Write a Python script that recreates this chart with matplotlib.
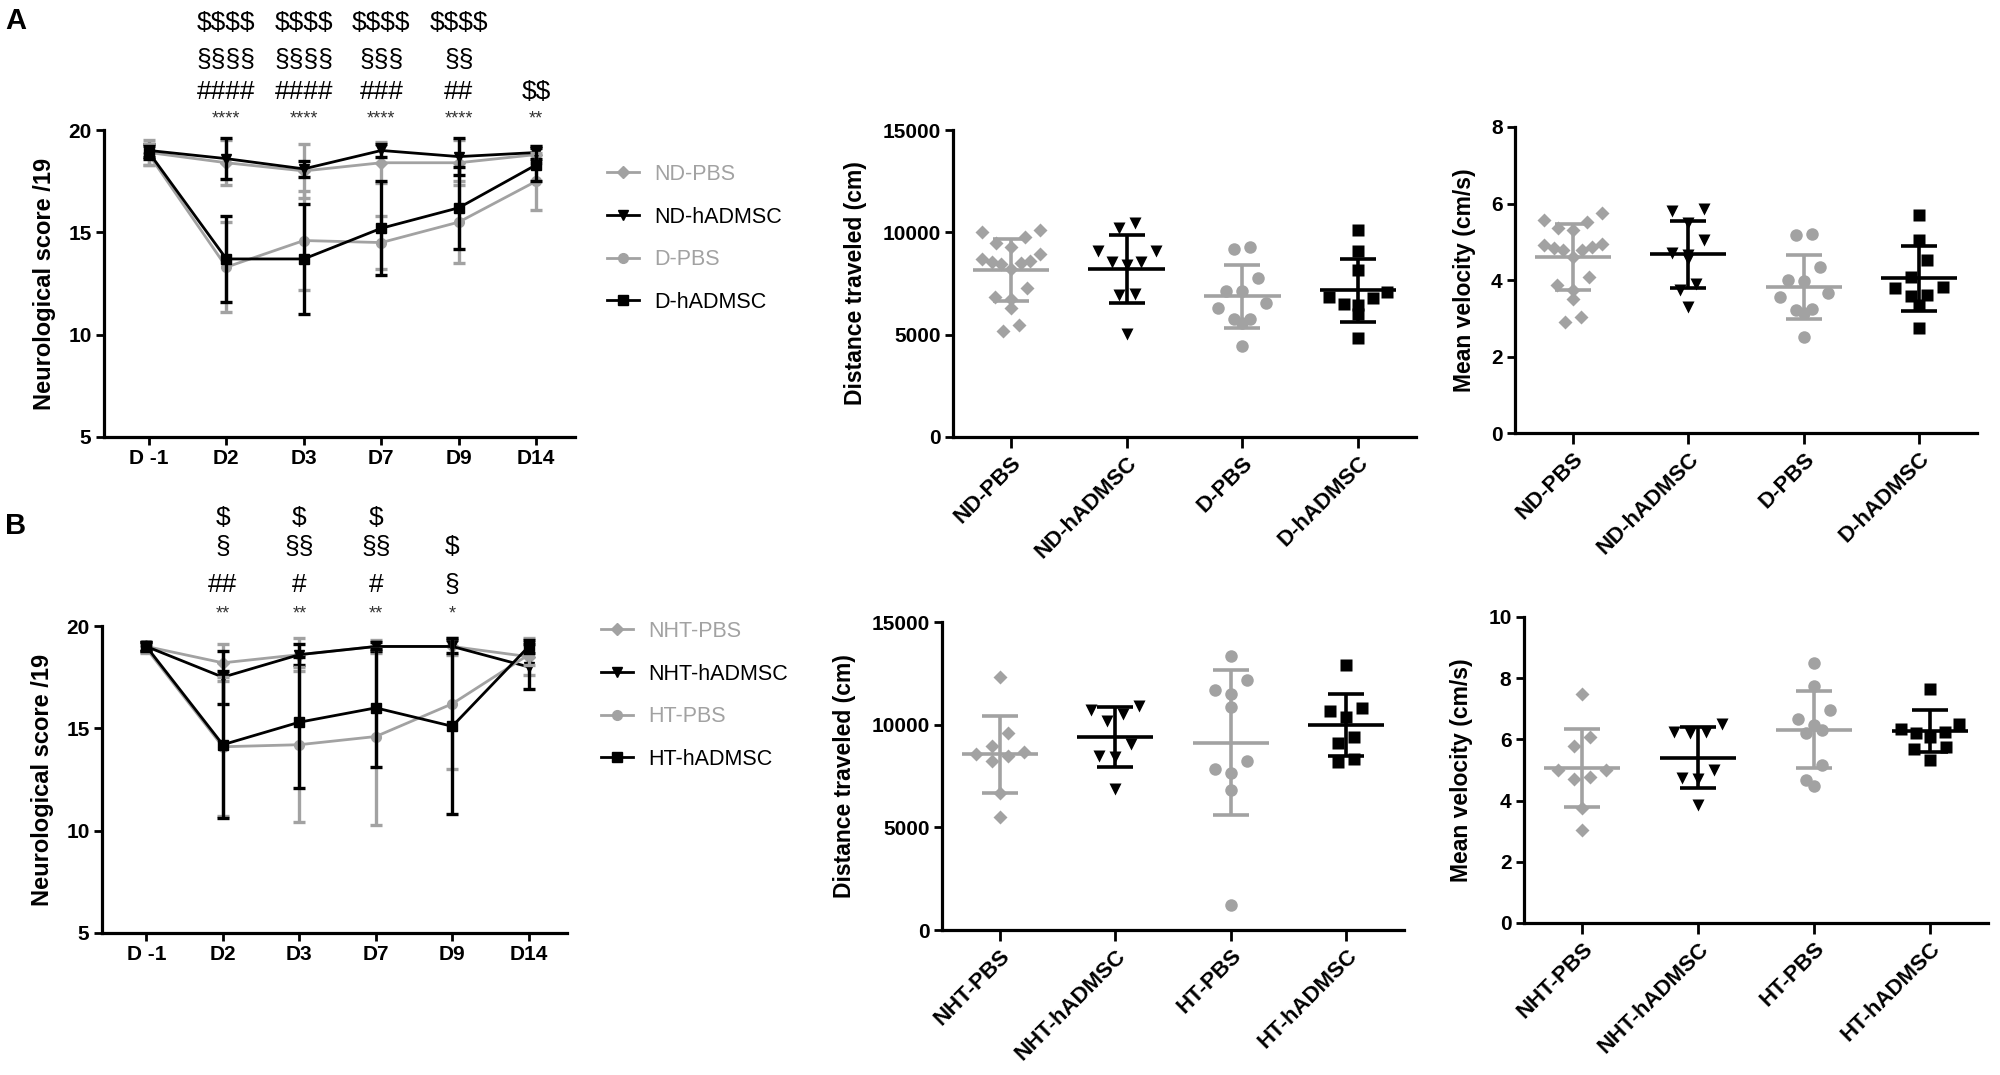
import numpy as np
import matplotlib
matplotlib.use("Agg")
import matplotlib.pyplot as plt

plt.rcParams['font.family'] = ['Liberation Sans', 'DejaVu Sans']

GRAY = "#a2a2a2"

# ---- Neurological score (line charts) ----
days = ["D -1", "D2", "D3", "D7", "D9", "D14"]

a_labels = ["ND-PBS", "ND-hADMSC", "D-PBS", "D-hADMSC"]
nd_pbs_mean = [18.9, 18.4, 18.0, 18.4, 18.4, 18.8]
nd_pbs_sd = [0.6, 1.1, 1.3, 1.0, 1.1, 0.4]
nd_hadmsc_mean = [19.0, 18.6, 18.1, 19.0, 18.7, 18.9]
nd_hadmsc_sd = [0.3, 1.0, 0.4, 0.3, 0.9, 0.3]
d_pbs_mean = [18.8, 13.3, 14.6, 14.5, 15.5, 17.5]
d_pbs_sd = [0.5, 2.2, 2.4, 1.3, 2.0, 1.4]
d_hadmsc_mean = [18.9, 13.7, 13.7, 15.2, 16.2, 18.3]
d_hadmsc_sd = [0.3, 2.1, 2.7, 2.3, 2.0, 0.8]

b_labels = ["NHT-PBS", "NHT-hADMSC", "HT-PBS", "HT-hADMSC"]
nht_pbs_mean = [19.0, 18.2, 18.6, 19.0, 19.0, 18.5]
nht_pbs_sd = [0.2, 0.9, 0.8, 0.3, 0.4, 0.9]
nht_hadmsc_mean = [19.0, 17.5, 18.6, 19.0, 19.0, 18.0]
nht_hadmsc_sd = [0.2, 1.3, 0.5, 0.2, 0.3, 1.1]
ht_pbs_mean = [18.9, 14.1, 14.2, 14.6, 16.2, 18.6]
ht_pbs_sd = [0.2, 3.4, 3.8, 4.3, 3.2, 0.5]
ht_hadmsc_mean = [19.0, 14.2, 15.3, 16.0, 15.1, 19.0]
ht_hadmsc_sd = [0.2, 3.6, 3.2, 2.9, 4.3, 0.3]

# significance marks above each day
a_dollar = ["", "$$$$", "$$$$", "$$$$", "$$$$", ""]
a_section = ["", "§§§§", "§§§§", "§§§", "§§", ""]
a_hash = ["", "####", "####", "###", "##", "$$"]
a_star = ["", "****", "****", "****", "****", "**"]
b_dollar = ["", "$", "$", "$", "", ""]
b_section = ["", "§", "§§", "§§", "$", ""]
b_hash = ["", "##", "#", "#", "§", ""]
b_star = ["", "**", "**", "**", "*", ""]

# ---- Open field (scatter, mean +- SD) ----
nd_pbs_dist = [10100, 10000, 9750, 9500, 9300, 8950, 8700, 8500, 8450,
               8550, 8600, 8200, 7300, 6750, 6850, 6300, 5200, 5450]
nd_hadmsc_dist = [10450, 10200, 9100, 9100, 8550, 8400, 8550, 7000, 6950, 5050]
d_pbs_dist = [9200, 9280, 7750, 7130, 7130, 6550, 6300, 5750, 5550, 5750, 4430]
d_hadmsc_dist = [10100, 9100, 8150, 6850, 6800, 6500, 6450, 7100, 6000, 4850]
dist_a_mean = [8150, 8200, 6870, 7160]
dist_a_sd = [1500, 1650, 1540, 1520]

nd_pbs_vel = [5.74, 5.58, 5.52, 5.37, 5.3, 4.91, 4.94, 4.83, 4.78, 4.78,
              4.87, 4.6, 4.09, 3.74, 3.87, 3.5, 2.91, 3.03]
nd_hadmsc_vel = [5.8, 5.85, 5.5, 5.05, 4.7, 4.55, 4.65, 3.9, 3.75, 3.3]
d_pbs_vel = [5.17, 5.19, 4.35, 4.0, 3.97, 3.65, 3.55, 3.22, 3.13, 3.24, 2.5]
d_hadmsc_vel = [5.7, 5.04, 4.52, 4.09, 3.78, 3.83, 3.61, 3.57, 3.35, 2.74]
vel_a_mean = [4.6, 4.67, 3.82, 4.04]
vel_a_sd = [0.87, 0.88, 0.84, 0.85]

nht_pbs_dist = [12320, 9570, 8950, 8550, 8480, 8680, 8240, 6650, 5480]
nht_hadmsc_dist = [10700, 10180, 10540, 10900, 8460, 8430, 9050, 6890]
ht_pbs_dist = [13330, 12160, 11480, 11710, 10860, 7860, 7670, 8240, 6810, 1220]
ht_hadmsc_dist = [12890, 10830, 10670, 10380, 9400, 9110, 8190, 8350]
dist_b_mean = [8560, 9400, 9130, 9970]
dist_b_sd = [1870, 1440, 3550, 1520]

nht_pbs_vel = [7.48, 6.09, 5.78, 5.0, 5.0, 4.71, 4.78, 3.75, 3.04]
nht_hadmsc_vel = [6.5, 6.25, 6.25, 6.2, 4.75, 4.7, 5.0, 3.85]
ht_pbs_vel = [8.5, 7.74, 6.96, 6.47, 6.68, 6.2, 6.3, 5.16, 4.48, 4.67]
ht_hadmsc_vel = [7.66, 6.33, 6.2, 6.09, 6.25, 6.5, 5.76, 5.7, 5.33]
vel_b_mean = [5.07, 5.4, 6.32, 6.28]
vel_b_sd = [1.27, 1.0, 1.27, 0.68]

MARKERS = ["D", "v", "o", "s"]
COLORS = [GRAY, "black", GRAY, "black"]
FIG_W, FIG_H = 2000, 1075


def style_axes(ax):
    for s in ("top", "right"):
        ax.spines[s].set_visible(False)
    for s in ("left", "bottom"):
        ax.spines[s].set_linewidth(2.3)
    ax.tick_params(width=2, length=6, labelsize=15, pad=3)
    for lab in ax.get_xticklabels() + ax.get_yticklabels():
        lab.set_fontweight("bold")


def line_panel(ax, means, sds, labels, rows, row_y, legend_xy):
    x = np.arange(len(days))
    handles = []
    for i in range(len(means)):
        c = ax.errorbar(x, means[i], yerr=sds[i], color=COLORS[i],
                        marker=MARKERS[i], ms=7 if MARKERS[i] != "D" else 6,
                        lw=2, elinewidth=2.4, capsize=4, capthick=2.4,
                        clip_on=False, zorder=3 + i)
        handles.append(c[0])
    ax.set_xlim(-0.58, 5.5)
    ax.set_ylim(5, 20)
    ax.set_yticks([5, 10, 15, 20])
    ax.set_xticks(x)
    ax.set_xticklabels(days)
    ax.set_ylabel("Neurological score /19", fontsize=17,
                  fontweight="bold", labelpad=9)
    style_axes(ax)

    for row, yy in zip(rows, row_y):
        small = row is rows[-1]
        for j, txt in enumerate(row):
            if txt:
                ax.text(j, yy, txt, transform=ax.get_xaxis_transform(),
                        ha="center", va="center", parse_math=False,
                        fontsize=13 if small else 19,
                        color="#333333" if small else "black")

    ax.legend(handles, labels, loc="upper left", frameon=False,
              bbox_to_anchor=legend_xy, bbox_transform=ax.figure.transFigure,
              fontsize=15.5, labelcolor="linecolor", handlelength=1.5,
              handletextpad=0.7, labelspacing=1.0, borderpad=0,
              borderaxespad=0)


def swarm(values, px_unit, px_cat, row_h=17.0, step=16.0):
    # GraphPad-like column scatter: points of similar value share a row,
    # the lowest of a row sits in the middle, the row is at most half a
    # category wide
    vals = np.asarray(values, dtype=float)
    order = list(np.argsort(-vals))
    xs = np.zeros(len(vals))
    while order:
        top = vals[order[0]]
        row = [i for i in order if (top - vals[i]) * px_unit < row_h]
        order = [i for i in order if i not in row]
        n = len(row)
        st = step / px_cat
        if n > 1:
            st = min(st, 0.5 / (n - 1))
        slots = sorted((np.arange(n) - (n - 1) / 2.0) * st, key=abs)
        row = sorted(row, key=lambda i: vals[i])
        for i, dx in zip(row, slots):
            xs[i] = dx
    return xs


def scatter_panel(ax, groups, means, sds, labels, ymax, yticks, ylabel):
    ax.set_xlim(-0.5, 3.5)
    ax.set_ylim(0, ymax)
    pos = ax.get_position()
    px_unit = pos.height * FIG_H / ymax
    px_cat = pos.width * FIG_W / 4.0
    for i, vals in enumerate(groups):
        off = swarm(vals, px_unit, px_cat)
        ax.plot(i + off, vals, ls="none", marker=MARKERS[i],
                ms=9 if MARKERS[i] != "D" else 7.5, color=COLORS[i],
                mec="none", clip_on=False, zorder=3)
        ax.plot([i - 0.33, i + 0.33], [means[i], means[i]],
                color=COLORS[i], lw=2.6, zorder=4, solid_capstyle="butt")
        ax.errorbar(i, means[i], yerr=sds[i], color=COLORS[i], lw=0,
                    elinewidth=2.6, capsize=13, capthick=2.6, zorder=4)
    ax.set_yticks(yticks)
    ax.set_xticks(range(4))
    ax.set_xticklabels(labels, rotation=45, ha="right",
                       rotation_mode="anchor")
    ax.set_ylabel(ylabel, fontsize=16.5, fontweight="bold", labelpad=11)
    style_axes(ax)
    ax.tick_params(axis="x", length=8, labelsize=16)


def rect(left, top, right, bottom):
    return [left / FIG_W, 1 - bottom / FIG_H,
            (right - left) / FIG_W, (bottom - top) / FIG_H]


fig = plt.figure(figsize=(20, 10.75), dpi=100)

ax_a1 = fig.add_axes(rect(104, 130, 575, 437))
ax_a2 = fig.add_axes(rect(953, 130, 1416, 437))
ax_a3 = fig.add_axes(rect(1515, 127, 1977, 433))
ax_b1 = fig.add_axes(rect(102, 626, 567, 933))
ax_b2 = fig.add_axes(rect(942, 622, 1404, 930))
ax_b3 = fig.add_axes(rect(1524, 617, 1988, 923))

line_panel(ax_a1,
           [nd_pbs_mean, nd_hadmsc_mean, d_pbs_mean, d_hadmsc_mean],
           [nd_pbs_sd, nd_hadmsc_sd, d_pbs_sd, d_hadmsc_sd],
           a_labels, [a_dollar, a_section, a_hash, a_star],
           [1.349, 1.228, 1.124, 1.036], (607 / FIG_W, 1 - 164 / FIG_H))
line_panel(ax_b1,
           [nht_pbs_mean, nht_hadmsc_mean, ht_pbs_mean, ht_hadmsc_mean],
           [nht_pbs_sd, nht_hadmsc_sd, ht_pbs_sd, ht_hadmsc_sd],
           b_labels, [b_dollar, b_section, b_hash, b_star],
           [1.352, 1.257, 1.134, 1.039], (601 / FIG_W, 1 - 621 / FIG_H))

scatter_panel(ax_a2, [nd_pbs_dist, nd_hadmsc_dist, d_pbs_dist, d_hadmsc_dist],
              dist_a_mean, dist_a_sd, a_labels, 15000,
              [0, 5000, 10000, 15000], "Distance traveled (cm)")
scatter_panel(ax_a3, [nd_pbs_vel, nd_hadmsc_vel, d_pbs_vel, d_hadmsc_vel],
              vel_a_mean, vel_a_sd, a_labels, 8,
              [0, 2, 4, 6, 8], "Mean velocity (cm/s)")
scatter_panel(ax_b2, [nht_pbs_dist, nht_hadmsc_dist, ht_pbs_dist,
                      ht_hadmsc_dist],
              dist_b_mean, dist_b_sd, b_labels, 15000,
              [0, 5000, 10000, 15000], "Distance traveled (cm)")
scatter_panel(ax_b3, [nht_pbs_vel, nht_hadmsc_vel, ht_pbs_vel, ht_hadmsc_vel],
              vel_b_mean, vel_b_sd, b_labels, 10,
              [0, 2, 4, 6, 8, 10], "Mean velocity (cm/s)")

fig.text(5 / FIG_W, 1 - 7 / FIG_H, "A", fontsize=21, fontweight="bold",
         va="top", ha="left")
fig.text(5 / FIG_W, 1 - 512 / FIG_H, "B", fontsize=21, fontweight="bold",
         va="top", ha="left")

fig.savefig("out.png", dpi=100)
plt.close(fig)
